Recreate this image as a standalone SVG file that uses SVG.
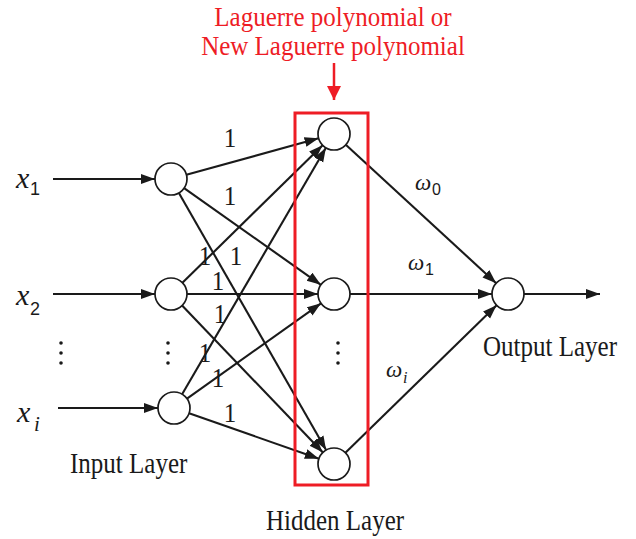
<svg xmlns="http://www.w3.org/2000/svg" width="636" height="539" viewBox="0 0 636 539">
<defs>
<style>
.node{fill:#fff;stroke:#1a1a1a;stroke-width:1.7}
.edge{stroke:#1a1a1a;stroke-width:2.1;fill:none;marker-end:url(#ah)}
.lbl{font-family:"Liberation Serif","Times New Roman",serif;font-size:25px;fill:#1a1a1a}
.w{font-family:"Liberation Serif","Times New Roman",serif;font-size:25px;fill:#1a1a1a}
.var{font-family:"Liberation Serif","Times New Roman",serif;font-style:italic;fill:#1a1a1a}
.sub{font-family:"Liberation Sans",Arial,sans-serif;fill:#1a1a1a}
.red{font-family:"Liberation Serif","Times New Roman",serif;font-size:25px;fill:#ee1c25}
.dot{fill:#1a1a1a}
</style>
<marker id="ah" markerUnits="userSpaceOnUse" markerWidth="15" markerHeight="11" refX="14" refY="5" orient="auto" viewBox="0 0 15 11">
<path d="M0,0 L14,5 L0,10 z" fill="#1a1a1a"/>
</marker>
<marker id="ahr" markerUnits="userSpaceOnUse" markerWidth="15" markerHeight="17" refX="16" refY="8" orient="auto" viewBox="0 0 17 17">
<path d="M0,0 L16,8 L0,16 z" fill="#ee1c25"/>
</marker>
</defs>
<rect width="636" height="539" fill="#fff"/>

<g id="connectors">
<line class="edge" x1="53" y1="179" x2="155" y2="179"/>
<line class="edge" x1="53" y1="294" x2="155" y2="294"/>
<line class="edge" x1="58" y1="408" x2="158" y2="408"/>
<line class="edge" x1="186.4" y1="174.7" x2="318.6" y2="138.3"/>
<line class="edge" x1="184.1" y1="188.2" x2="320.9" y2="284.8"/>
<line class="edge" x1="178.9" y1="192.9" x2="326.1" y2="450.1"/>
<line class="edge" x1="182.4" y1="282.8" x2="322.6" y2="145.2"/>
<line class="edge" x1="187" y1="294" x2="318" y2="294"/>
<line class="edge" x1="182.1" y1="305.6" x2="322.9" y2="452.4"/>
<line class="edge" x1="182.1" y1="394.2" x2="325.9" y2="147.8"/>
<line class="edge" x1="187" y1="398.7" x2="321" y2="303.3"/>
<line class="edge" x1="189.1" y1="413.3" x2="318.9" y2="458.7"/>
<line class="edge" x1="345.8" y1="144.8" x2="496.2" y2="283.2"/>
<line class="edge" x1="350" y1="294" x2="492" y2="294"/>
<line class="edge" x1="345.4" y1="452.8" x2="496.6" y2="305.2"/>
<line class="edge" x1="524" y1="294" x2="600" y2="294"/>
<line x1="334" y1="63" x2="334" y2="100" stroke="#ee1c25" stroke-width="2.5" marker-end="url(#ahr)"/>
</g>

<g id="hidden-box">
<rect x="295" y="113" width="73" height="372" fill="none" stroke="#ee1c25" stroke-width="3"/>
</g>

<g id="input1"><circle class="node" cx="171" cy="179" r="16"/></g>
<g id="input2"><circle class="node" cx="171" cy="294" r="16"/></g>
<g id="input3"><circle class="node" cx="174" cy="408" r="16"/></g>
<g id="hidden1"><circle class="node" cx="334" cy="134" r="16"/></g>
<g id="hidden2"><circle class="node" cx="334" cy="294" r="16"/></g>
<g id="hidden3"><circle class="node" cx="334" cy="464" r="16"/></g>
<g id="output"><circle class="node" cx="508" cy="294" r="16"/></g>

<g id="ellipses">
<circle class="dot" cx="61" cy="343" r="1.8"/><circle class="dot" cx="61" cy="353" r="1.8"/><circle class="dot" cx="61" cy="363" r="1.8"/>
<circle class="dot" cx="168" cy="343" r="1.8"/><circle class="dot" cx="168" cy="353" r="1.8"/><circle class="dot" cx="168" cy="363" r="1.8"/>
<circle class="dot" cx="338" cy="343" r="1.8"/><circle class="dot" cx="338" cy="353" r="1.8"/><circle class="dot" cx="338" cy="363" r="1.8"/>
</g>

<g id="input-labels">
<text class="var" x="16" y="188" font-size="30">x</text><text class="sub" x="30" y="195" font-size="18">1</text>
<text class="var" x="16" y="305" font-size="30">x</text><text class="sub" x="30" y="315" font-size="18">2</text>
<text class="var" x="17" y="422" font-size="30">x</text><text class="var" x="34" y="431" font-size="21">i</text>
</g>

<g id="weights">
<text class="w" transform="translate(230,147) scale(1,1.12)" text-anchor="middle">1</text>
<text class="w" transform="translate(230,205) scale(1,1.12)" text-anchor="middle">1</text>
<text class="w" transform="translate(205,265) scale(1,1.12)" text-anchor="middle">1</text>
<text class="w" transform="translate(236,265) scale(1,1.12)" text-anchor="middle">1</text>
<text class="w" transform="translate(218,290) scale(1,1.12)" text-anchor="middle">1</text>
<text class="w" transform="translate(220,323) scale(1,1.12)" text-anchor="middle">1</text>
<text class="w" transform="translate(205,362) scale(1,1.12)" text-anchor="middle">1</text>
<text class="w" transform="translate(218,387) scale(1,1.12)" text-anchor="middle">1</text>
<text class="w" transform="translate(230,422) scale(1,1.12)" text-anchor="middle">1</text>
</g>

<g id="omega-labels">
<text class="var" x="415" y="190" font-size="23">ω</text><text class="sub" x="432" y="195" font-size="16">0</text>
<text class="var" x="408" y="270" font-size="23">ω</text><text class="sub" x="425" y="275" font-size="16">1</text>
<text class="var" x="386" y="377" font-size="23">ω</text><text class="var" x="403" y="383" font-size="16">i</text>
</g>

<g id="layer-labels">
<text class="lbl" transform="translate(70,473) scale(1,1.15)">Input Layer</text>
<text class="lbl" transform="translate(266,530) scale(1,1.15)">Hidden Layer</text>
<text class="lbl" transform="translate(483,356) scale(1,1.15)">Output Layer</text>
</g>

<g id="annotation">
<text class="red" transform="translate(333,26) scale(1,1.12)" text-anchor="middle">Laguerre polynomial or</text>
<text class="red" transform="translate(333,55) scale(1,1.12)" text-anchor="middle">New Laguerre polynomial</text>
</g>
</svg>
